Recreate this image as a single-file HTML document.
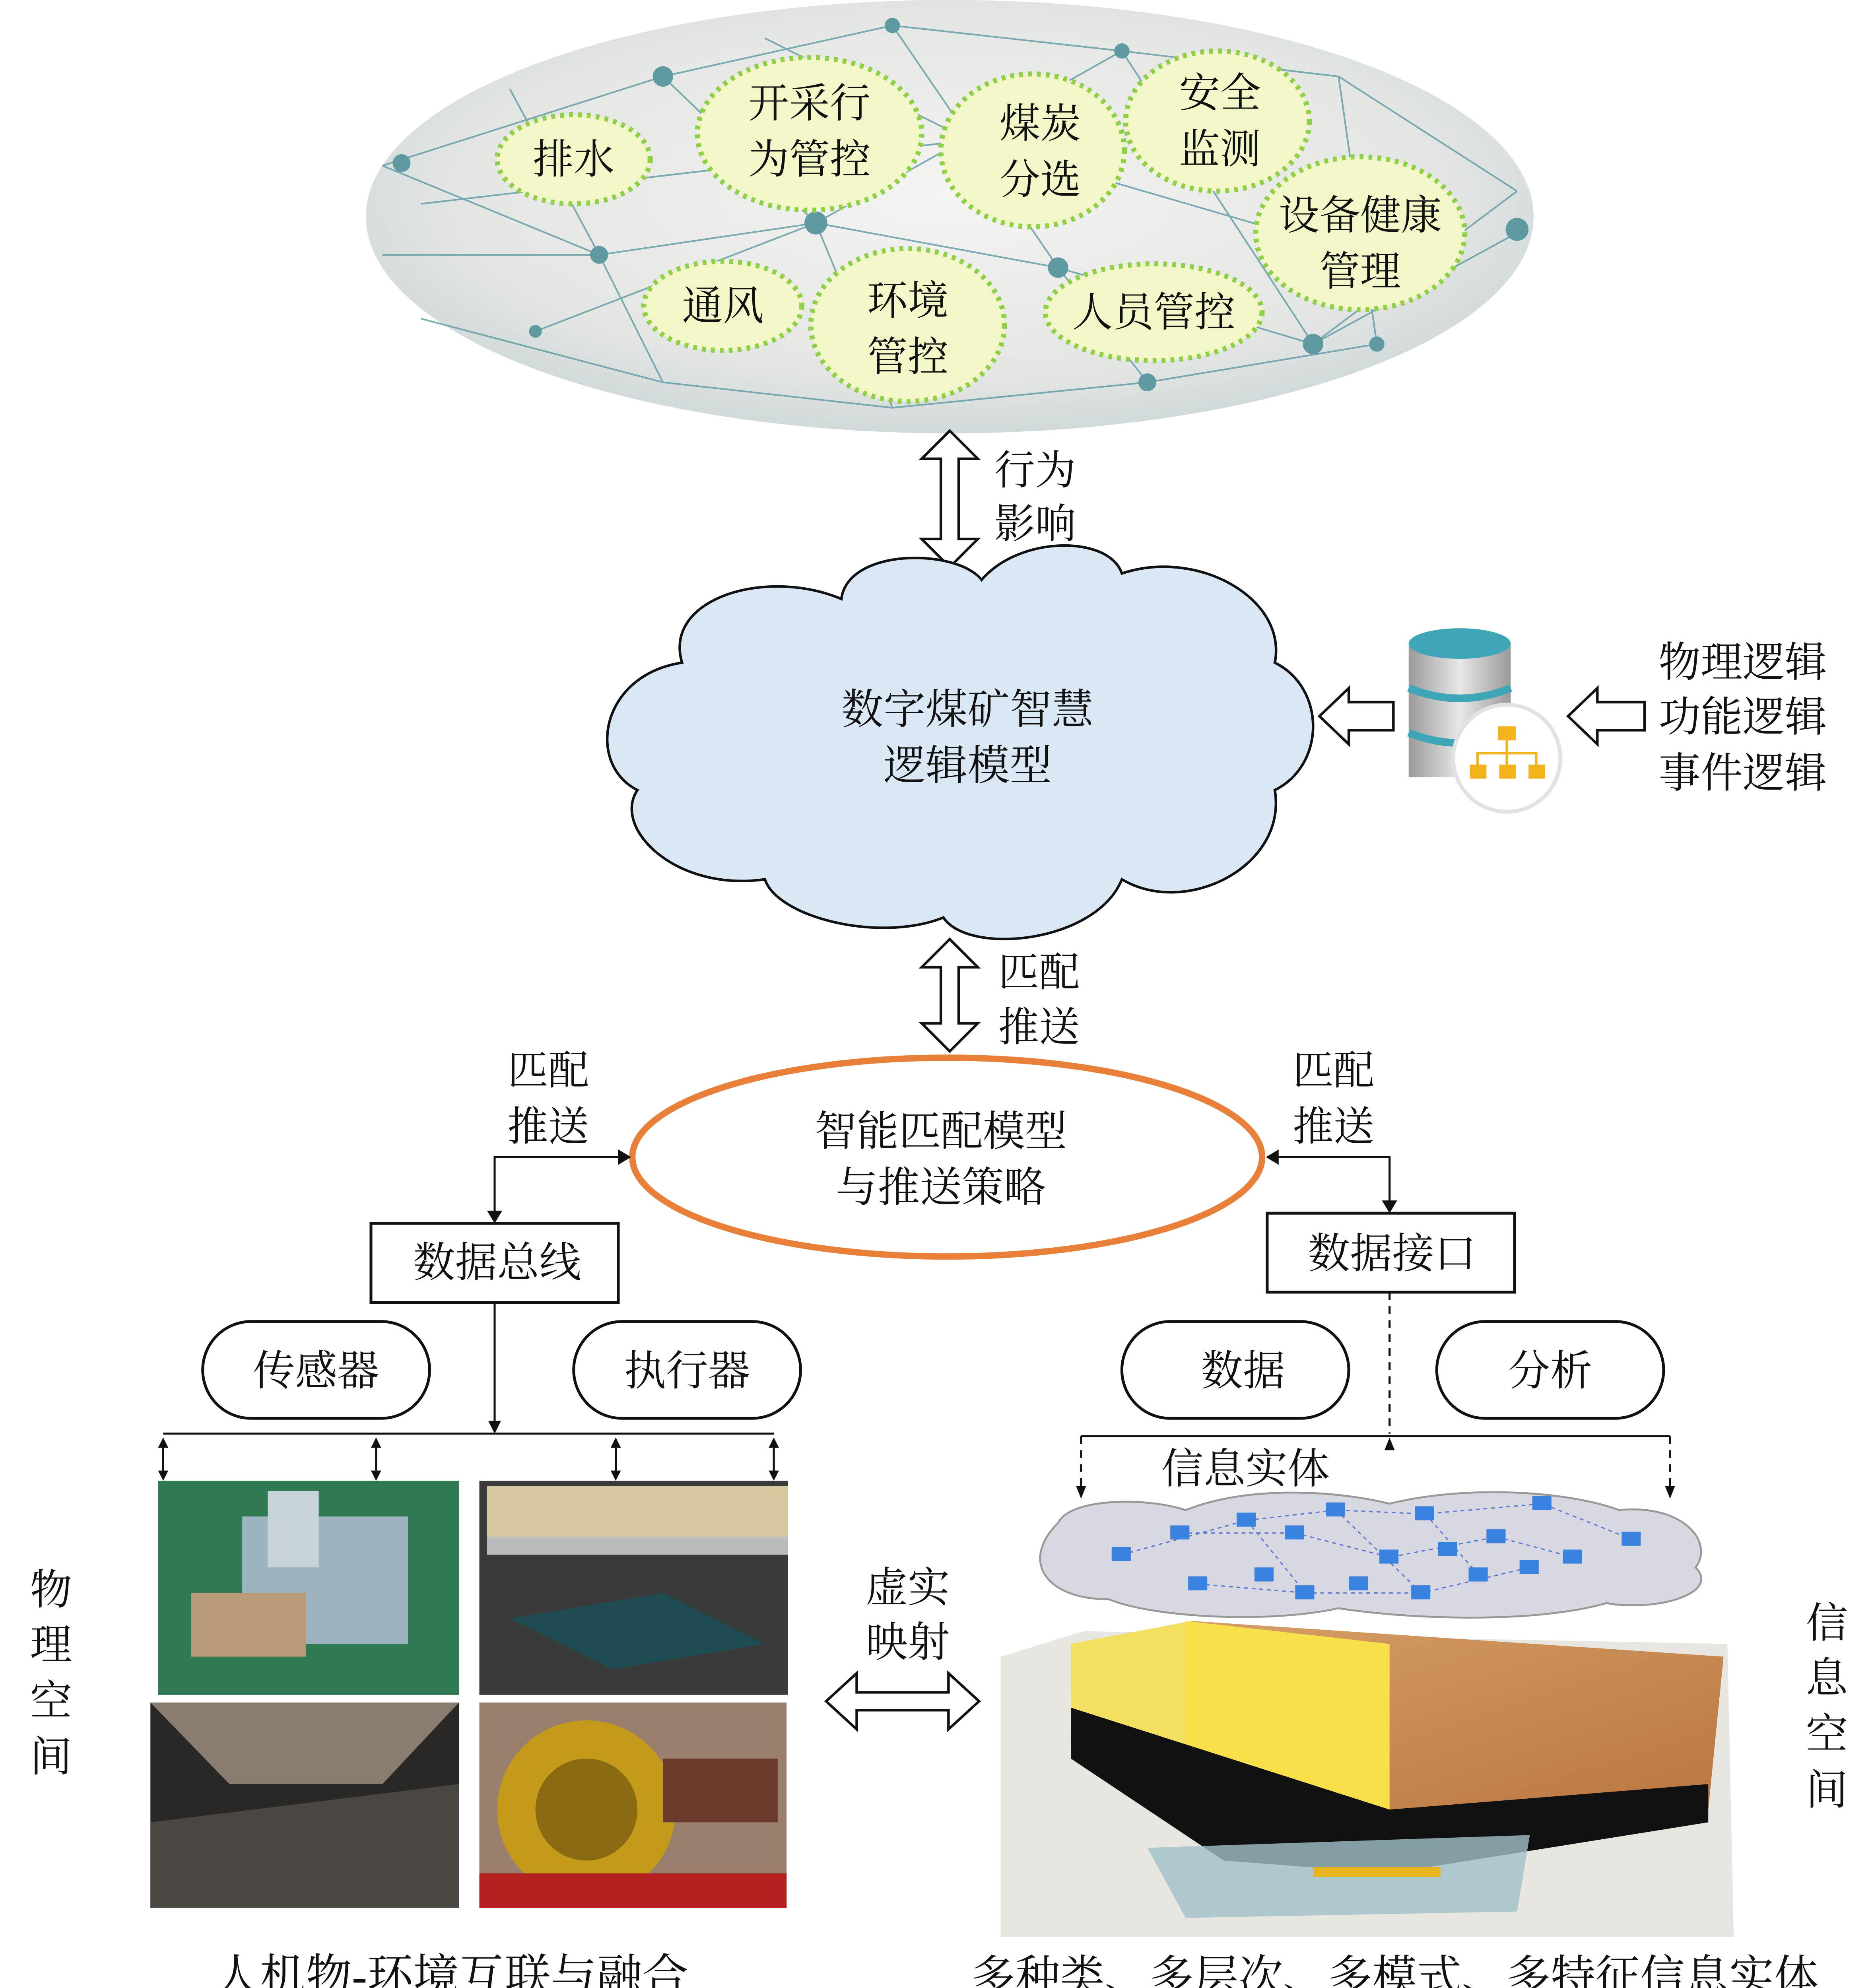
<!DOCTYPE html>
<html><head><meta charset="utf-8"><style>html,body{margin:0;padding:0;background:#fff;width:4713px;height:5032px;overflow:hidden}svg{display:block}text{font-family:"Liberation Serif","Noto Serif CJK SC",serif;fill:#111}</style></head>
<body>
<svg width="4713" height="5032" viewBox="0 0 1470 1570" preserveAspectRatio="none" xmlns="http://www.w3.org/2000/svg">
<defs>
<radialGradient id="eg" cx="50%" cy="45%" r="60%"><stop offset="0" stop-color="#f4f4f2"/><stop offset="0.7" stop-color="#e4e6e4"/><stop offset="1" stop-color="#c9d4d6"/></radialGradient>
<linearGradient id="db" x1="0" x2="1"><stop offset="0" stop-color="#9a9a9a"/><stop offset="0.5" stop-color="#e8e8e8"/><stop offset="1" stop-color="#9a9a9a"/></linearGradient>
<linearGradient id="soil" x1="0" y1="0" x2="1" y2="1"><stop offset="0" stop-color="#d9a36a"/><stop offset="1" stop-color="#b8733e"/></linearGradient>
</defs>
<ellipse cx="745" cy="170" rx="458" ry="170" fill="url(#eg)"/>
<g stroke="#5e9aa3" stroke-width="1.3" opacity="0.8" fill="none">
<path d="M300 130 L520 60 L700 20 L880 40 L1050 60 L1190 150 M300 200 L470 200 L640 175 L830 210 L1030 270 L1195 180 M330 250 L520 300 L700 320 L900 300 L1080 270 M400 70 L470 200 L520 300 M520 60 L640 175 L700 320 M700 20 L830 210 L900 300 M880 40 L1030 270 M1050 60 L1080 270 M300 130 L470 200 M1190 150 L1030 270 M600 30 L760 110 L1000 180 M330 160 L760 110 M420 260 L640 175 L880 40"/>
</g>
<g fill="#5f9aa0">
<circle cx="520" cy="60" r="8"/><circle cx="640" cy="175" r="9"/><circle cx="830" cy="210" r="8"/><circle cx="470" cy="200" r="7"/><circle cx="1030" cy="270" r="8"/><circle cx="700" cy="20" r="6"/><circle cx="880" cy="40" r="6"/><circle cx="1190" cy="180" r="9"/><circle cx="315" cy="128" r="7"/><circle cx="900" cy="300" r="7"/><circle cx="760" cy="110" r="6"/><circle cx="1080" cy="270" r="6"/><circle cx="420" cy="260" r="5"/>
</g>
<g fill="#f3f7c8" stroke="#8fd048" stroke-width="4" stroke-dasharray="3 4">
<ellipse cx="450" cy="125" rx="60" ry="35"/>
<ellipse cx="635" cy="105" rx="88" ry="60"/>
<ellipse cx="810" cy="118" rx="72" ry="60"/>
<ellipse cx="955" cy="95" rx="72" ry="55"/>
<ellipse cx="1067" cy="183" rx="82" ry="60"/>
<ellipse cx="567" cy="240" rx="62" ry="35"/>
<ellipse cx="712" cy="255" rx="76" ry="60"/>
<ellipse cx="905" cy="245" rx="85" ry="38"/>
</g>
<g font-size="32" text-anchor="middle">
<text x="450" y="136">排水</text>
<text x="635" y="92">开采行</text><text x="635" y="136">为管控</text>
<text x="816" y="108">煤炭</text><text x="816" y="152">分选</text>
<text x="957" y="84">安全</text><text x="957" y="128">监测</text>
<text x="1067" y="180">设备健康</text><text x="1067" y="224">管理</text>
<text x="567" y="251">通风</text>
<text x="712" y="247">环境</text><text x="712" y="291">管控</text>
<text x="905" y="256">人员管控</text>
</g>
<g fill="#fff" stroke="#111" stroke-width="2">
<path d="M745 338 L767 360 L752 360 L752 423 L767 423 L745 445 L723 423 L738 423 L738 360 L723 360 Z"/>
<path d="M745 737 L767 759 L752 759 L752 803 L767 803 L745 825 L723 803 L738 803 L738 759 L723 759 Z"/>
<path d="M648 1335 L672 1313 L672 1328 L744 1328 L744 1313 L768 1335 L744 1357 L744 1342 L672 1342 L672 1357 Z"/>
<path d="M1035 562 L1058 540 L1058 551 L1093 551 L1093 573 L1058 573 L1058 584 Z"/>
<path d="M1230 562 L1253 540 L1253 551 L1290 551 L1290 573 L1253 573 L1253 584 Z"/>
</g>
<g font-size="32">
<text x="780" y="380">行为</text><text x="780" y="422">影响</text>
<text x="783" y="774">匹配</text><text x="783" y="817">推送</text>
</g>
<path d="M535 520 C520 470 600 445 660 470 C665 430 750 430 770 455 C800 420 870 420 880 450 C940 430 1010 470 1000 520 C1040 540 1040 600 1000 620 C1010 680 930 720 880 690 C860 740 760 750 740 720 C690 740 610 720 600 690 C530 700 480 650 500 620 C460 600 470 530 535 520 Z" fill="#dae7f5" stroke="#111" stroke-width="2"/>
<g font-size="33" text-anchor="middle"><text x="759" y="568">数字煤矿智慧</text><text x="759" y="612">逻辑模型</text></g>
<rect x="1105" y="505" width="80" height="105" fill="url(#db)"/>
<ellipse cx="1145" cy="505" rx="40" ry="12" fill="#3fa6b8"/>
<path d="M1105 540 Q1145 556 1185 540" stroke="#3fa6b8" stroke-width="6" fill="none"/>
<path d="M1105 575 Q1145 591 1185 575" stroke="#3fa6b8" stroke-width="6" fill="none"/>
<circle cx="1182" cy="595" r="42" fill="#fff" stroke="#e2e2e2" stroke-width="3"/>
<g fill="#f2b31b"><rect x="1175" y="570" width="14" height="11"/><rect x="1153" y="600" width="13" height="11"/><rect x="1176" y="600" width="13" height="11"/><rect x="1199" y="600" width="13" height="11"/></g>
<path d="M1182 581 V600 M1159 600 V591 H1205 V600" stroke="#f2b31b" stroke-width="2" fill="none"/>
<g font-size="33" text-anchor="middle"><text x="1367" y="531">物理逻辑</text><text x="1367" y="574">功能逻辑</text><text x="1367" y="618">事件逻辑</text></g>
<ellipse cx="743" cy="908" rx="247" ry="78" fill="#fff" stroke="#e8803a" stroke-width="5"/>
<g font-size="33" text-anchor="middle"><text x="738" y="899">智能匹配模型</text><text x="738" y="943">与推送策略</text></g>
<g font-size="32" text-anchor="middle"><text x="430" y="851">匹配</text><text x="430" y="895">推送</text><text x="1046" y="851">匹配</text><text x="1046" y="895">推送</text></g>
<g stroke="#111" stroke-width="1.6" fill="none">
<path d="M388 958 V908 H493"/><path d="M1090 950 V908 H995"/>
<path d="M388 1022 V1123"/><path d="M128 1125 H607"/>
<path d="M128 1130 V1158 M295 1130 V1158 M483 1130 V1158 M607 1130 V1158"/>
<path d="M848 1127 H1310"/>
<path d="M1090 1014 V1125" stroke-dasharray="6 5"/>
<path d="M848 1127 V1170 M1310 1127 V1170" stroke-dasharray="6 5"/>
</g>
<g fill="#111">
<path d="M382 950 L388 960 L394 950Z"/><path d="M1084 942 L1090 952 L1096 942Z"/>
<path d="M485 902 L495 908 L485 914Z"/><path d="M1003 902 L993 908 L1003 914Z"/>
<path d="M383 1115 L388 1125 L393 1115Z"/>
<path d="M124 1136 L128 1128 L132 1136Z M124 1154 L128 1162 L132 1154Z M291 1136 L295 1128 L299 1136Z M291 1154 L295 1162 L299 1154Z M479 1136 L483 1128 L487 1136Z M479 1154 L483 1162 L487 1154Z M603 1136 L607 1128 L611 1136Z M603 1154 L607 1162 L611 1154Z"/>
<path d="M844 1166 L848 1176 L852 1166Z M1306 1166 L1310 1176 L1314 1166Z M1086 1138 L1090 1128 L1094 1138Z"/>
</g>
<g fill="#fff" stroke="#111" stroke-width="2.2">
<rect x="291" y="960" width="194" height="62"/><rect x="994" y="952" width="194" height="62"/>
<rect x="159" y="1037" width="178" height="76" rx="38"/><rect x="450" y="1037" width="178" height="76" rx="38"/>
<rect x="880" y="1037" width="178" height="76" rx="38"/><rect x="1127" y="1037" width="178" height="76" rx="38"/>
</g>
<g font-size="33" text-anchor="middle">
<text x="390" y="1002">数据总线</text><text x="1092" y="995">数据接口</text>
<text x="248" y="1087">传感器</text><text x="539" y="1087">执行器</text>
<text x="975" y="1087">数据</text><text x="1216" y="1087">分析</text>
<text x="977" y="1164">信息实体</text>
</g>
<rect x="124" y="1162" width="236" height="168" fill="#2f7a52"/>
<rect x="190" y="1190" width="130" height="100" fill="#9db4c0"/><rect x="210" y="1170" width="40" height="60" fill="#c8d4d8"/><rect x="150" y="1250" width="90" height="50" fill="#b89a78"/>
<rect x="376" y="1162" width="242" height="168" fill="#3a3a3a"/>
<rect x="382" y="1166" width="236" height="40" fill="#d8c8a0"/><rect x="382" y="1206" width="236" height="14" fill="#bbb"/>
<path d="M400 1270 L520 1250 L600 1290 L480 1310 Z" fill="#1e4c52"/>
<rect x="118" y="1336" width="242" height="161" fill="#2a2826"/>
<path d="M118 1336 H360 L300 1400 H180 Z" fill="#8a7d70"/><path d="M118 1430 L360 1400 V1497 H118Z" fill="#4a4743"/>
<rect x="376" y="1336" width="241" height="161" fill="#9a7f6c"/>
<circle cx="460" cy="1420" r="70" fill="#c49a1a"/><circle cx="460" cy="1420" r="40" fill="#8a6a10"/><rect x="376" y="1470" width="241" height="27" fill="#b52020"/><rect x="520" y="1380" width="90" height="50" fill="#6b3a2a"/>
<path d="M830 1195 C840 1175 900 1175 930 1185 C980 1165 1050 1170 1090 1180 C1150 1165 1230 1170 1270 1185 C1320 1180 1345 1210 1330 1230 C1350 1250 1300 1265 1260 1258 C1200 1275 1100 1270 1050 1262 C990 1275 900 1268 870 1255 C820 1255 800 1225 830 1195 Z" fill="#d8d8e0" stroke="#999" stroke-width="1.5"/>
<g stroke="#3a5fd8" stroke-width="1" stroke-dasharray="3 3" fill="none" opacity="0.8"><path d="M880 1220 L978 1193 L1048 1185 L1118 1188 L1210 1180 L1280 1208 M926 1203 L1016 1203 L1090 1222 L1174 1206 L1234 1222 M940 1243 L1024 1250 L1115 1250 L1200 1230 M978 1193 L1024 1250 M1048 1185 L1115 1250 M1118 1188 L1160 1236"/></g>
<g fill="#3a82e0">
<rect x="872" y="1214" width="15" height="11"/><rect x="918" y="1197" width="15" height="11"/><rect x="970" y="1187" width="15" height="11"/><rect x="1008" y="1197" width="15" height="11"/><rect x="1040" y="1179" width="15" height="11"/><rect x="1110" y="1182" width="15" height="11"/><rect x="1166" y="1200" width="15" height="11"/><rect x="1202" y="1174" width="15" height="11"/><rect x="1272" y="1202" width="15" height="11"/><rect x="1226" y="1216" width="15" height="11"/><rect x="1082" y="1216" width="15" height="11"/><rect x="1128" y="1210" width="15" height="11"/><rect x="932" y="1237" width="15" height="11"/><rect x="984" y="1230" width="15" height="11"/><rect x="1016" y="1244" width="15" height="11"/><rect x="1058" y="1237" width="15" height="11"/><rect x="1107" y="1244" width="15" height="11"/><rect x="1152" y="1230" width="15" height="11"/><rect x="1192" y="1224" width="15" height="11"/>
</g>
<path d="M785 1300 L850 1280 L1355 1290 L1360 1520 L785 1520 Z" fill="#e8e6e0"/>
<path d="M840 1290 L935 1272 L1352 1300 L1340 1420 L1090 1440 L840 1370 Z" fill="url(#soil)"/>
<path d="M840 1290 L935 1272 L930 1400 L840 1360 Z" fill="#f3e060"/>
<path d="M930 1272 L1090 1290 L1090 1440 L930 1400 Z" fill="#f7e04a"/>
<path d="M840 1340 L1090 1420 L1340 1400 L1340 1430 L1090 1470 L960 1460 L840 1380 Z" fill="#111"/>
<path d="M900 1450 L1200 1440 L1190 1500 L930 1505 Z" fill="#9fc0c8" opacity="0.8"/>
<rect x="1030" y="1465" width="100" height="8" fill="#e7b520"/>
<g font-size="33" text-anchor="middle">
<text x="712" y="1257">虚实</text><text x="712" y="1300">映射</text>
<text x="40" y="1259">物</text><text x="40" y="1302">理</text><text x="40" y="1346">空</text><text x="40" y="1390">间</text>
<text x="1433" y="1285">信</text><text x="1433" y="1328">息</text><text x="1433" y="1372">空</text><text x="1433" y="1416">间</text>
</g>
<g text-anchor="middle">
<text x="354" y="1563" font-size="36">人机物-环境互联与融合</text>
<text x="1094" y="1563" font-size="35">多种类、多层次、多模式、多特征信息实体</text>
</g>
</svg>
</body></html>
